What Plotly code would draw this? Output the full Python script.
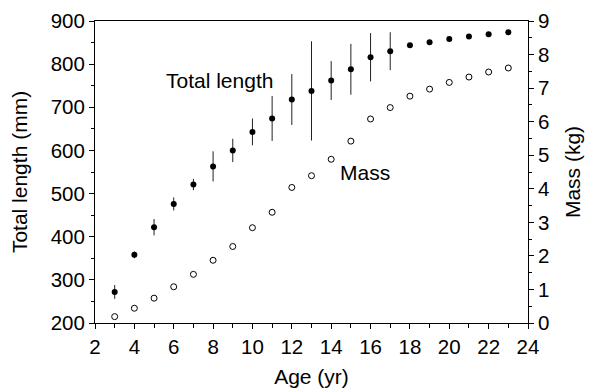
import plotly.graph_objects as go

ages = list(range(3, 24))
length_mm = [272, 358, 422, 476, 521, 563, 600, 643, 674, 718, 738, 762, 788, 816, 830,
             844, 851, 858, 864, 869, 874]
length_err = [16, 8, 19, 15, 13, 35, 27, 31, 52, 59, 115, 45, 59, 56, 44,
              0, 0, 0, 0, 0, 0]
mass_kg = [0.19, 0.44, 0.74, 1.08, 1.45, 1.87, 2.28, 2.84, 3.30, 4.04, 4.39, 4.88,
           5.42, 6.08, 6.42, 6.76, 6.97, 7.17, 7.33, 7.48, 7.60]

FONT = "Liberation Sans, Arial, sans-serif"
TICK = 20.5
TITLE = 21

fig = go.Figure()
fig.add_trace(go.Scatter(
    x=ages, y=length_mm, mode="markers",
    marker=dict(symbol="circle", size=6, color="black"),
    error_y=dict(type="data", array=length_err, visible=True,
                 thickness=1, width=0, color="#222222"),
    showlegend=False, cliponaxis=False))
fig.add_trace(go.Scatter(
    x=ages, y=mass_kg, mode="markers", yaxis="y2",
    marker=dict(symbol="circle-open", size=6, color="black", line=dict(width=1)),
    showlegend=False, cliponaxis=False))

axis_common = dict(showgrid=False, zeroline=False, showline=True, linecolor="black",
                   linewidth=1, ticks="outside", tickcolor="black", ticklen=5,
                   tickwidth=1, automargin=False,
                   tickfont=dict(family=FONT, size=TICK, color="black"))

fig.update_layout(
    width=590, height=389,
    margin=dict(l=95, r=62, t=21, b=66),
    paper_bgcolor="white", plot_bgcolor="white",
    font=dict(family=FONT, size=TITLE, color="black"),
    xaxis=dict(range=[2, 24], dtick=2, tick0=2, mirror=True,
               minor=dict(dtick=1, ticks="outside", ticklen=4, tickcolor="black"),
               title=dict(text="Age (yr)", standoff=12,
                          font=dict(family=FONT, size=TITLE)),
               **axis_common),
    yaxis=dict(range=[200, 900], dtick=100, tick0=200,
               minor=dict(dtick=50, ticks="outside", ticklen=3, tickcolor="black"),
               title=dict(text="Total length (mm)", standoff=17,
                          font=dict(family=FONT, size=TITLE)),
               **axis_common),
    yaxis2=dict(range=[0, 9], dtick=1, tick0=0, overlaying="y", side="right",
                minor=dict(dtick=0.5, ticks="outside", ticklen=3, tickcolor="black"),
                title=dict(text="Mass (kg)", standoff=16,
                           font=dict(family=FONT, size=TITLE)),
                **axis_common),
    annotations=[
        dict(x=8.34, y=763, xref="x", yref="y", text="Total length", showarrow=False,
             font=dict(family=FONT, size=TITLE, color="black")),
        dict(x=15.71, y=550, xref="x", yref="y", text="Mass", showarrow=False,
             font=dict(family=FONT, size=TITLE, color="black")),
    ],
)

fig.write_html("out.html")
